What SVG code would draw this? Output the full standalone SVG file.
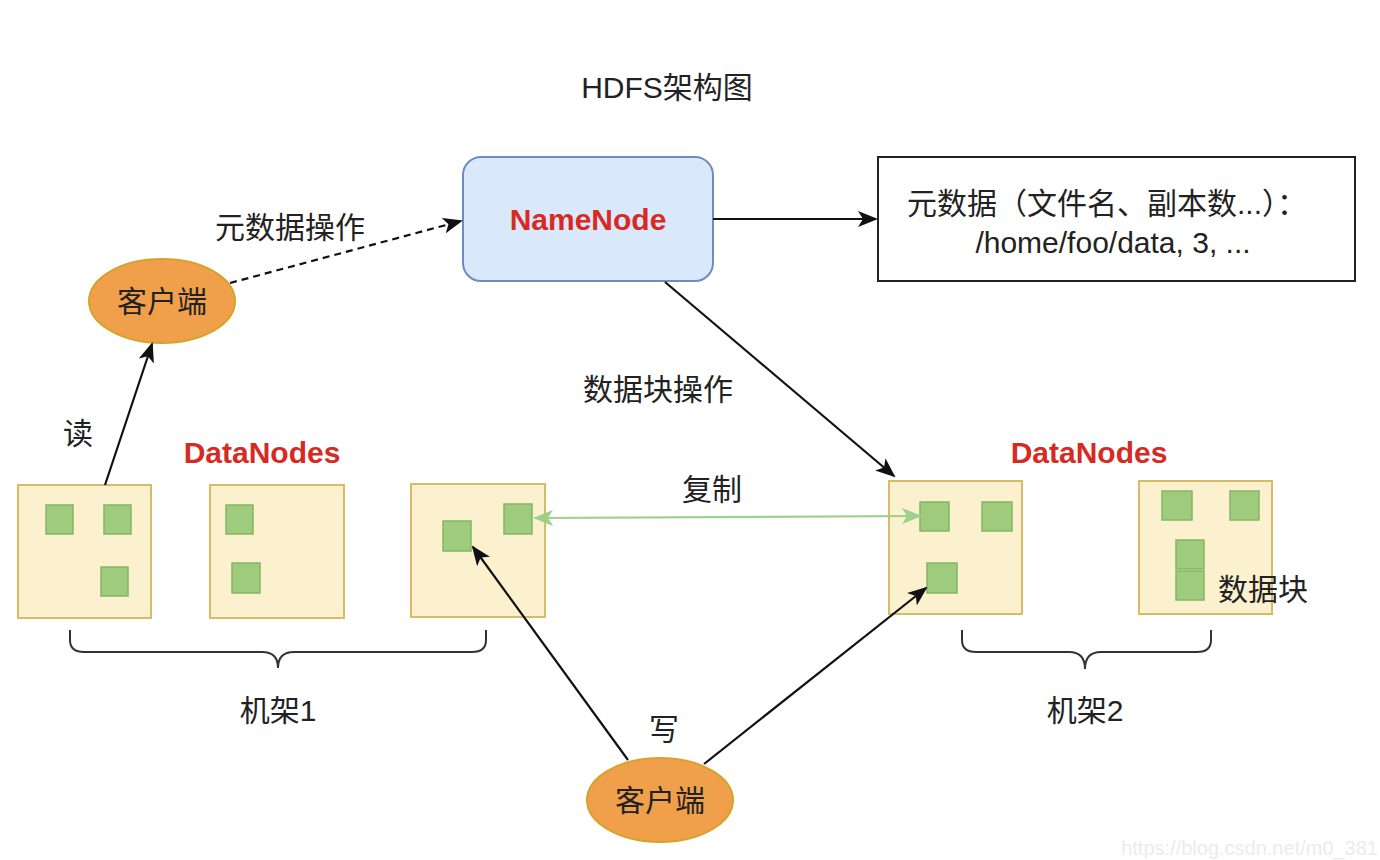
<svg xmlns="http://www.w3.org/2000/svg" width="1380" height="860" viewBox="0 0 1380 860">
<defs>
<style>
text{font-family:"Liberation Sans","Noto Sans CJK SC",sans-serif;fill:#222;}
.t{font-size:30px;text-anchor:middle;}
.red{font-size:30px;font-weight:bold;fill:#d62a22;text-anchor:middle;}
.rack{fill:#fcf1cf;stroke:#d6bc66;stroke-width:2;}
.blk{fill:#9fcc7c;stroke:#86b466;stroke-width:1.5;}
.client{fill:#f0a04b;stroke:#d7a229;stroke-width:2;}
.ln{fill:none;stroke:#111;stroke-width:2.2;}
.brace{fill:none;stroke:#333;stroke-width:2;}
</style>
<marker id="ah" viewBox="0 0 20 16" refX="18" refY="8" markerWidth="20" markerHeight="16" markerUnits="userSpaceOnUse" orient="auto">
<path d="M0,0 L20,8 L0,16 L5,8 Z" fill="#111"/>
</marker>
<marker id="gh" viewBox="0 0 20 16" refX="18" refY="8" markerWidth="20" markerHeight="16" markerUnits="userSpaceOnUse" orient="auto-start-reverse">
<path d="M0,0 L20,8 L0,16 L5,8 Z" fill="#9fd08a"/>
</marker>
</defs>
<rect width="1380" height="860" fill="#ffffff"/>

<text class="t" x="667" y="98">HDFS架构图</text>

<g id="namenode">
<rect x="463" y="157" width="250" height="124" rx="18" fill="#dae8fc" stroke="#6c8ebf" stroke-width="2"/>
<text class="red" x="588" y="230">NameNode</text>
</g>

<g id="metadata">
<rect x="878" y="157" width="477" height="124" fill="#fff" stroke="#222" stroke-width="2"/>
<text class="t" x="1107" y="214">元数据（文件名、副本数...）：</text>
<text class="t" x="1113" y="253">/home/foo/data, 3, ...</text>
</g>

<g id="client-top">
<ellipse class="client" cx="162" cy="301" rx="73" ry="42"/>
<text class="t" x="162" y="312">客户端</text>
</g>

<g id="client-bottom">
<ellipse class="client" cx="660" cy="800" rx="73" ry="42"/>
<text class="t" x="660" y="811">客户端</text>
</g>

<g id="dn1">
<rect class="rack" x="18" y="485" width="133" height="133"/>
<rect class="blk" x="46" y="505" width="27" height="29"/>
<rect class="blk" x="104" y="505" width="27" height="29"/>
<rect class="blk" x="101" y="567" width="27" height="29"/>
</g>
<g id="dn2">
<rect class="rack" x="210" y="485" width="134" height="133"/>
<rect class="blk" x="226" y="505" width="27" height="29"/>
<rect class="blk" x="232" y="563" width="28" height="30"/>
</g>
<g id="dn3">
<rect class="rack" x="411" y="484" width="134" height="133"/>
<rect class="blk" x="443" y="521" width="28" height="30"/>
<rect class="blk" x="504" y="504" width="28" height="30"/>
</g>
<g id="dn4">
<rect class="rack" x="889" y="481" width="133" height="133"/>
<rect class="blk" x="920" y="502" width="29" height="29"/>
<rect class="blk" x="982" y="502" width="30" height="29"/>
<rect class="blk" x="927" y="563" width="30" height="30"/>
</g>
<g id="dn5">
<rect class="rack" x="1139" y="481" width="133" height="133"/>
<rect class="blk" x="1162" y="491" width="30" height="29"/>
<rect class="blk" x="1230" y="491" width="29" height="29"/>
<rect class="blk" x="1176" y="540" width="28" height="29"/>
<rect class="blk" x="1176" y="571" width="28" height="29"/>
<text class="t" x="1263" y="600">数据块</text>
</g>

<g id="rack1">
<path class="brace" d="M70,630 L70,640 Q70,652 84,652 L262,652 Q278,652 278,668 Q278,652 294,652 L472,652 Q486,652 486,640 L486,630"/>
<text class="t" x="278" y="721">机架1</text>
</g>
<g id="rack2">
<path class="brace" d="M962,630 L962,640 Q962,652 976,652 L1069,652 Q1085,652 1085,669 Q1085,652 1101,652 L1197,652 Q1211,652 1211,640 L1211,630"/>
<text class="t" x="1085" y="721">机架2</text>
</g>

<g id="connectors">
<line class="ln" x1="230" y1="283" x2="461" y2="221" stroke-dasharray="7,5" marker-end="url(#ah)"/>
<line class="ln" x1="713" y1="219" x2="876" y2="219" marker-end="url(#ah)"/>
<line class="ln" x1="665" y1="282" x2="894" y2="476" marker-end="url(#ah)"/>
<line class="ln" x1="105" y1="485" x2="152" y2="344" marker-end="url(#ah)"/>
<line x1="535" y1="518" x2="920" y2="516" stroke="#9fd08a" stroke-width="2.2" marker-start="url(#gh)" marker-end="url(#gh)"/>
<line class="ln" x1="628" y1="760" x2="473" y2="547" marker-end="url(#ah)"/>
<line class="ln" x1="704" y1="764" x2="926" y2="588" marker-end="url(#ah)"/>
</g>

<g id="labels">
<text class="t" x="290" y="238">元数据操作</text>
<text class="t" x="658" y="400">数据块操作</text>
<text class="t" x="78" y="444">读</text>
<text class="t" x="712" y="500">复制</text>
<text class="t" x="664" y="740">写</text>
<text class="red" x="262" y="463">DataNodes</text>
<text class="red" x="1089" y="463">DataNodes</text>
</g>

<text x="1378" y="855" text-anchor="end" style="font-size:20px;fill:#ececec;">https://blog.csdn.net/m0_381</text>
</svg>
